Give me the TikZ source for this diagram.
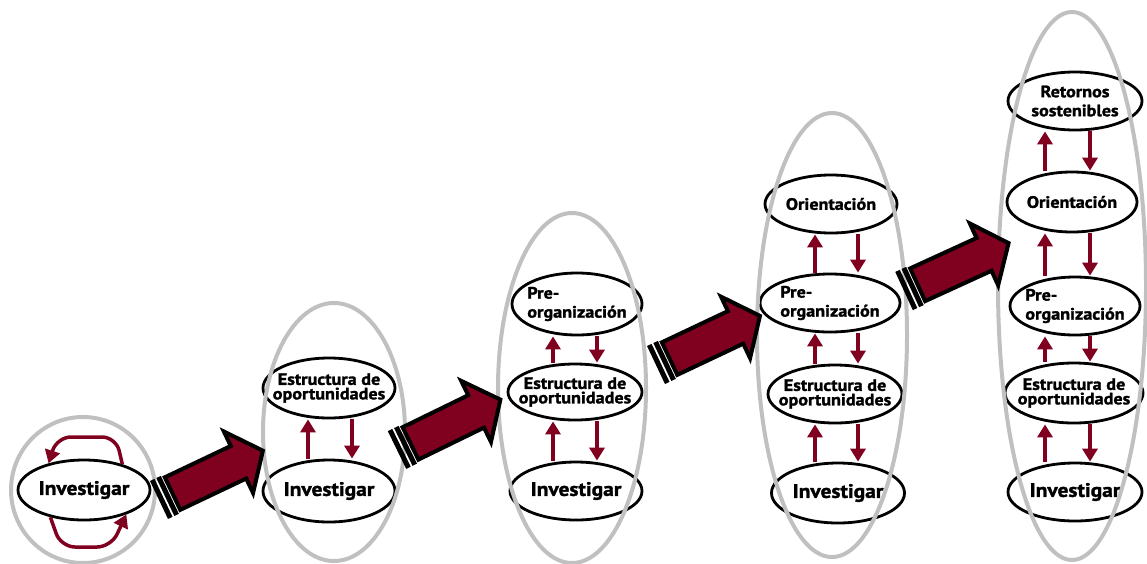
\documentclass[tikz,border=0pt]{standalone}
\usepackage{fontspec}
\setmainfont{PT Sans}[BoldFeatures={FakeBold=1.6,FakeStretch=1.1}]
\usetikzlibrary{arrows.meta,shapes.geometric}
\definecolor{maroon}{RGB}{128,0,32}
\definecolor{ringgray}{RGB}{192,192,192}
\begin{document}
\begin{tikzpicture}[x=1pt,y=-1pt,
  stage/.style={ellipse, draw=black, line width=2.8pt, fill=white, inner xsep=-14pt, inner ysep=0pt,
    font=\bfseries\fontsize{16.5}{19}\selectfont, align=center},
  big/.style={font=\bfseries\fontsize{19.5}{24}\selectfont},
  tight/.style={font=\bfseries\fontsize{16.5}{14.5}\selectfont},
  ring/.style={draw=ringgray, line width=4pt},
  ra/.style={draw=maroon, line width=3.5pt, -{Triangle[width=15pt,length=13pt]}},
  bigarr/.pic={
    \fill[black] (0,-21) rectangle (5,21);
    \fill[black] (7,-21) rectangle (12,21);
    \draw[fill=maroon, draw=black, line width=4pt, line join=miter]
      (15,-18) -- (88,-18) -- (88,-34) -- (115,0) -- (88,34) -- (88,18) -- (15,18) -- cycle;
  }
]
\useasboundingbox (0,0) rectangle (1147,563);

% ---------- stage 1
\node[stage,big,minimum width=132pt,minimum height=60pt] (inv1) at (84,490) {Investigar};
\draw[ra, rounded corners=14pt] (inv1.34) -- (116,437) -- (57,437) -- (inv1.143);
\draw[ra, rounded corners=14pt] (inv1.219) -- (61,547) -- (111,547) -- (inv1.330);

% ---------- stage 2
\node[stage,tight,minimum width=132pt,minimum height=60pt] (est2) at (329,388) {Estructura de\\oportunidades};
\node[stage,big,minimum width=132pt,minimum height=62pt] (inv2) at (329,491) {Investigar};
\coordinate (u2) at (308,0); \coordinate (d2) at (352,0);
\draw[ra] (inv2.north -| u2) -- (est2.south -| u2);
\draw[ra] (est2.south -| d2) -- (inv2.north -| d2);

% ---------- stage 3
\node[stage,minimum width=130pt,minimum height=62pt,align=left] (pre3) at (577,304) {Pre-\\organización};
\node[stage,tight,minimum width=134pt,minimum height=56pt] (est3) at (575,392) {Estructura de\\oportunidades};
\node[stage,big,minimum width=132pt,minimum height=58pt] (inv3) at (576,491) {Investigar};
\coordinate (u3) at (553,0); \coordinate (d3) at (597,0);
\draw[ra] (est3.north -| u3) -- (pre3.south -| u3);
\draw[ra] (pre3.south -| d3) -- (est3.north -| d3);
\draw[ra] (inv3.north -| u3) -- (est3.south -| u3);
\draw[ra] (est3.south -| d3) -- (inv3.north -| d3);

% ---------- stage 4
\node[stage,minimum width=132pt,minimum height=58pt] (ori4) at (831,204) {Orientación};
\node[stage,minimum width=140pt,minimum height=58pt,align=left] (pre4) at (830,303) {Pre-\\organización};
\node[stage,tight,minimum width=134pt,minimum height=58pt] (est4) at (835,394) {Estructura de\\oportunidades};
\node[stage,big,minimum width=133pt,minimum height=60pt] (inv4) at (838,493) {Investigar};
\coordinate (u4) at (815,0); \coordinate (d4) at (858,0);
\draw[ra] (pre4.north -| u4) -- (ori4.south -| u4);
\draw[ra] (ori4.south -| d4) -- (pre4.north -| d4);
\draw[ra] (est4.north -| u4) -- (pre4.south -| u4);
\draw[ra] (pre4.south -| d4) -- (est4.north -| d4);
\draw[ra] (inv4.north -| u4) -- (est4.south -| u4);
\draw[ra] (est4.south -| d4) -- (inv4.north -| d4);

% ---------- stage 5
\node[stage,minimum width=134pt,minimum height=58pt] (ret5) at (1075,101) {Retornos\\sostenibles};
\node[stage,minimum width=130pt,minimum height=60pt] (ori5) at (1072,202) {Orientación};
\node[stage,minimum width=130pt,minimum height=58pt,align=left] (pre5) at (1075,306) {Pre-\\organización};
\node[stage,tight,minimum width=138pt,minimum height=60pt] (est5) at (1074,393) {Estructura de\\oportunidades};
\node[stage,big,minimum width=134pt,minimum height=58pt] (inv5) at (1075,492) {Investigar};
\coordinate (u5) at (1045,0); \coordinate (d5) at (1090,0);
\draw[ra] (ori5.north -| u5) -- (ret5.south -| u5);
\draw[ra] (ret5.south -| d5) -- (ori5.north -| d5);
\draw[ra] (pre5.north -| u5) -- (ori5.south -| u5);
\draw[ra] (ori5.south -| d5) -- (pre5.north -| d5);
\draw[ra] (est5.north -| u5) -- (pre5.south -| u5);
\draw[ra] (pre5.south -| d5) -- (est5.north -| d5);
\draw[ra] (inv5.north -| u5) -- (est5.south -| u5);
\draw[ra] (est5.south -| d5) -- (inv5.north -| d5);

% ---------- grey rings
\draw[ring] (83,490) ellipse [x radius=72, y radius=73];
\draw[ring] (334,432) ellipse [x radius=71, y radius=129];
\draw[ring] (572,388) ellipse [x radius=74, y radius=175];
\draw[ring] (832,335) ellipse [x radius=75, y radius=222];
\draw[ring] (1072,286) ellipse [x radius=74, y radius=274];

% ---------- big arrows
\pic[rotate=25.4] at (159,500) {bigarr};
\pic[rotate=26] at (397,450) {bigarr};
\pic[rotate=25.3] at (656,365) {bigarr};
\pic[rotate=24.6] at (904,291) {bigarr};
\end{tikzpicture}
\end{document}
